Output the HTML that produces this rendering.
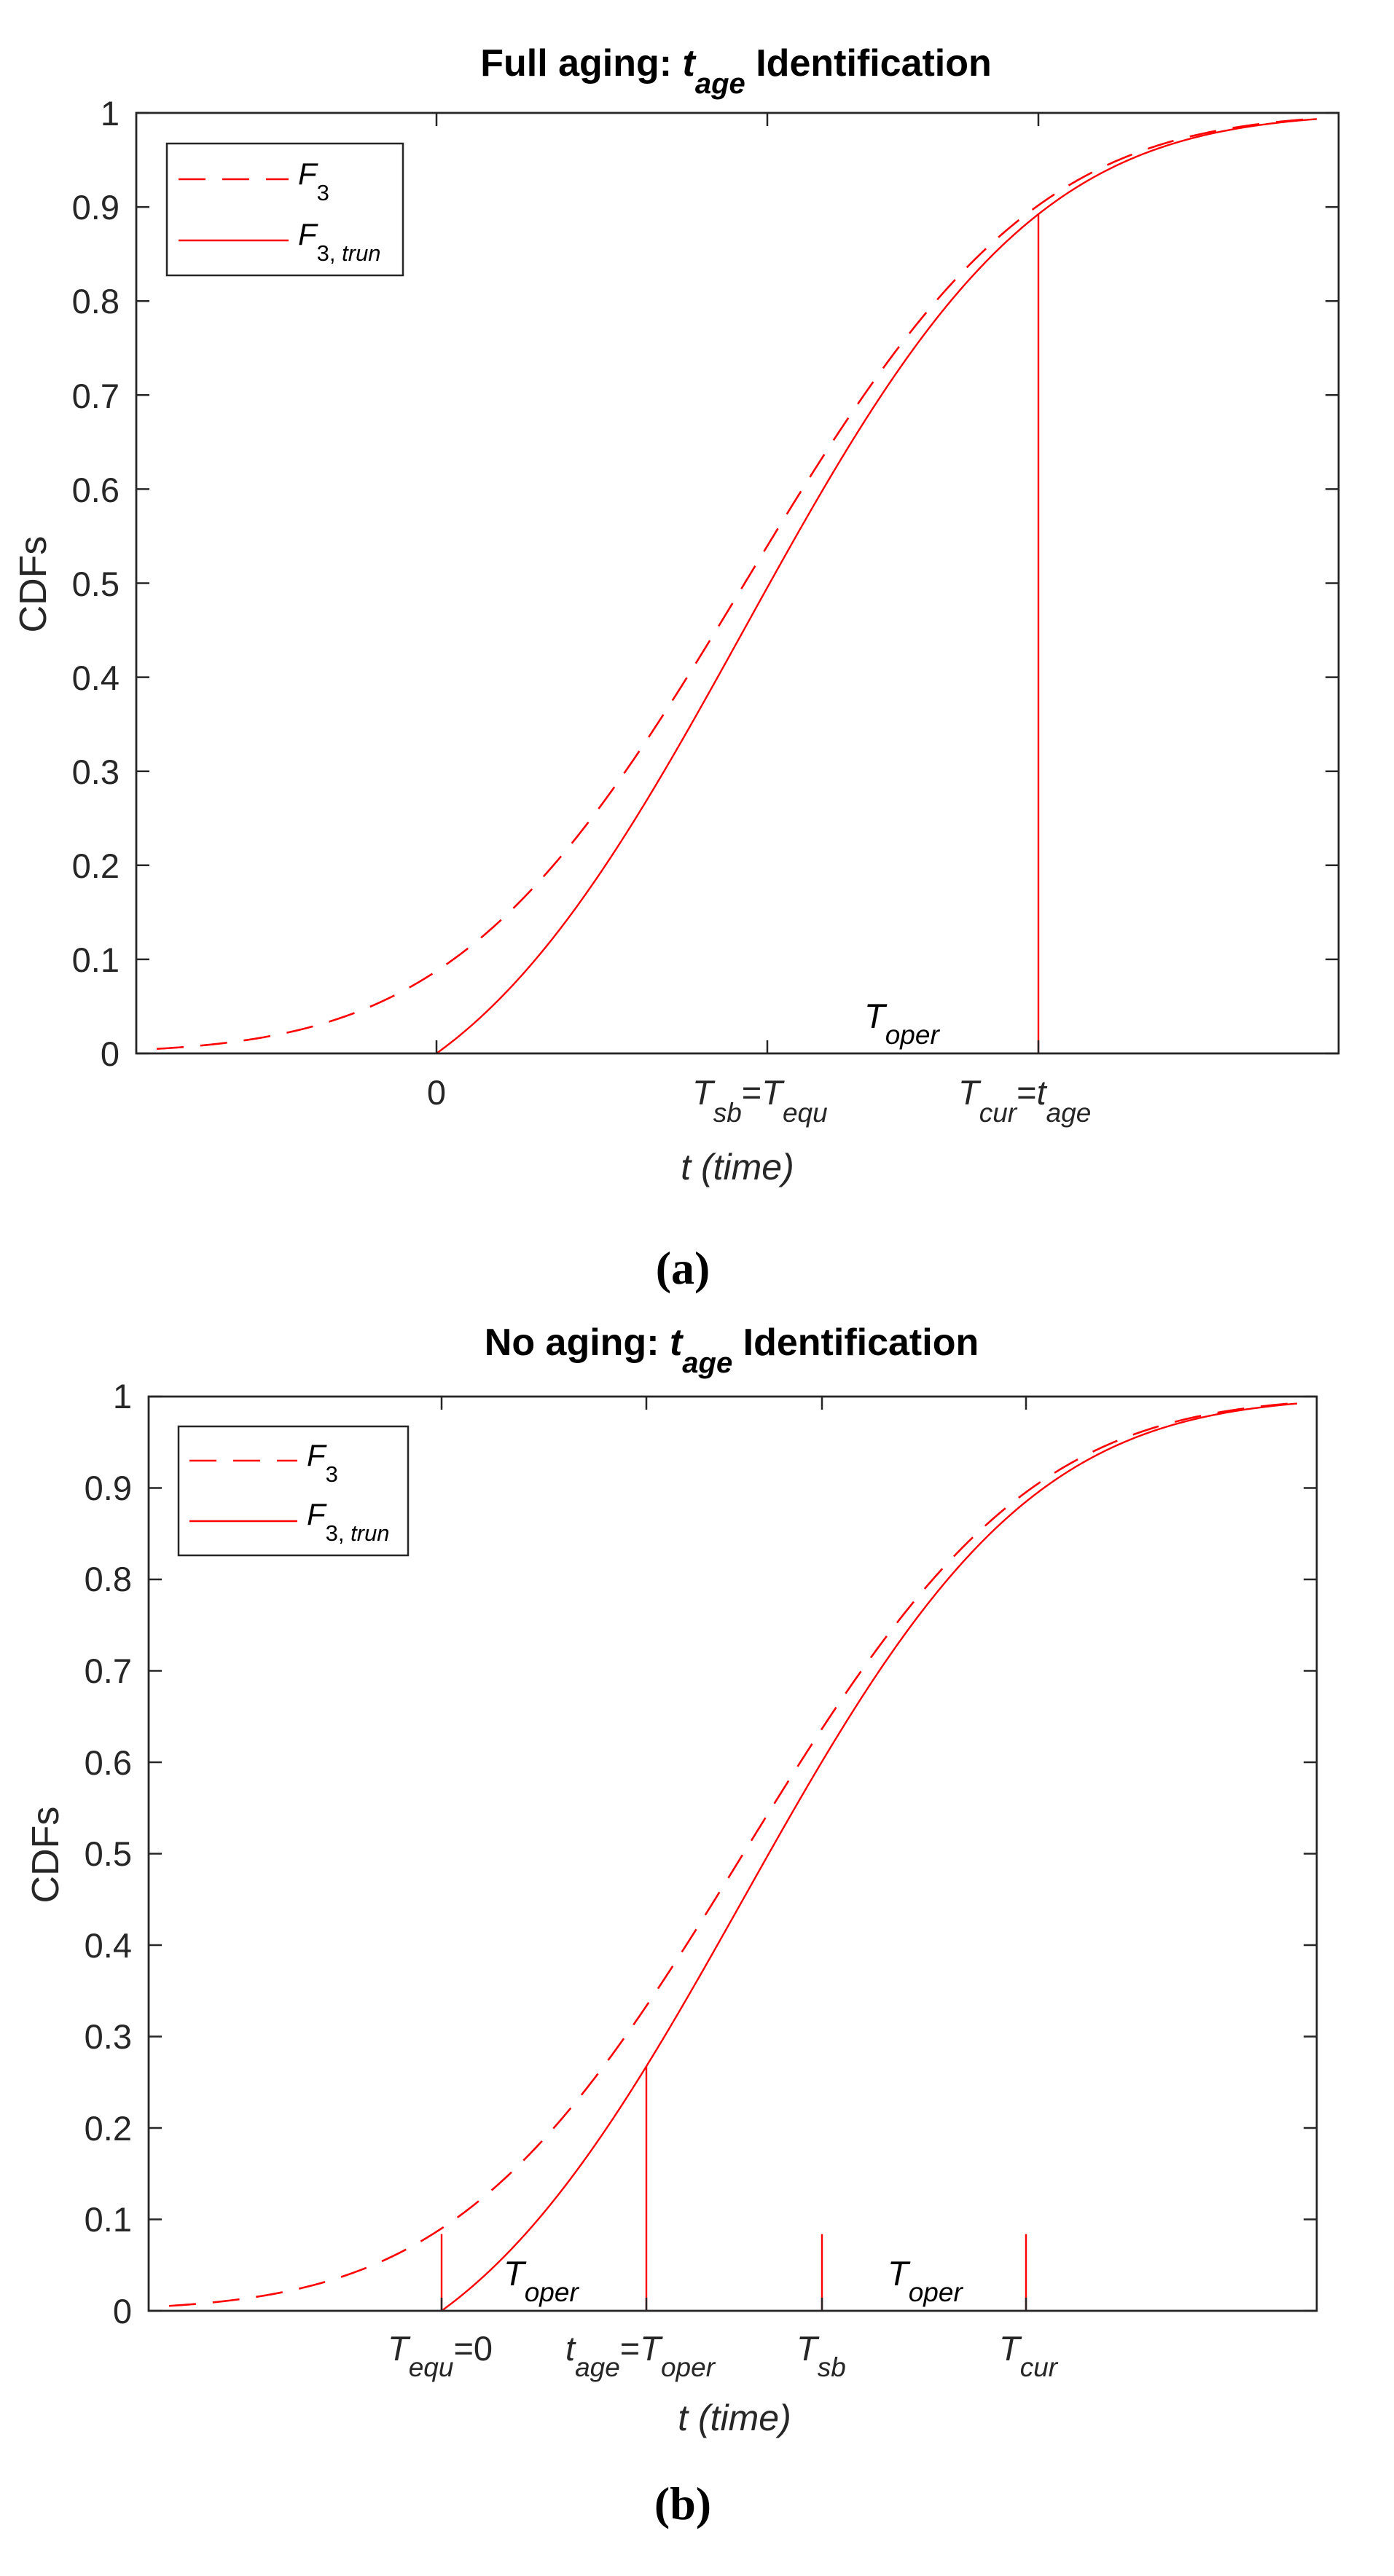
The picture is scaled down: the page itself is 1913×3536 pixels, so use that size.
<!DOCTYPE html>
<html><head><meta charset="utf-8">
<style>
html,body{margin:0;padding:0;background:#fff}
svg{display:block}
text{font-family:"Liberation Sans",Arial,sans-serif;fill:#262626}
.it{font-style:italic}
</style></head>
<body>
<svg id="s" width="1913" height="3536" viewBox="0 0 1913 3536" xmlns="http://www.w3.org/2000/svg">
<rect width="1913" height="3536" fill="#fff"/>
<g id="g"></g>

<!-- Panel a texts -->
<text x="1010" y="104" font-size="52" font-weight="bold" text-anchor="middle" style="fill:#000">Full aging: <tspan font-style="italic">t</tspan><tspan font-style="italic" font-size="40" dy="24">age</tspan><tspan dy="-24"> Identification</tspan></text>
<text transform="translate(63,802) rotate(-90)" font-size="52" text-anchor="middle">CDFs</text>
<g font-size="47" text-anchor="end">
<text x="164" y="1463">0</text><text x="164" y="1334">0.1</text><text x="164" y="1205">0.2</text>
<text x="164" y="1076">0.3</text><text x="164" y="947">0.4</text><text x="164" y="818">0.5</text>
<text x="164" y="689">0.6</text><text x="164" y="560">0.7</text><text x="164" y="430">0.8</text>
<text x="164" y="301">0.9</text><text x="164" y="172">1</text>
</g>
<text x="599" y="1516" font-size="47" text-anchor="middle">0</text>
<text x="950" y="1516" font-size="47" class="it">T<tspan font-size="37" dy="24">sb</tspan><tspan dy="-24" font-style="normal">=</tspan>T<tspan font-size="37" dy="24">equ</tspan></text>
<text x="1315" y="1516" font-size="47" class="it">T<tspan font-size="37" dy="24">cur</tspan><tspan dy="-24" font-style="normal">=</tspan>t<tspan font-size="37" dy="24">age</tspan></text>
<text x="1186" y="1411" font-size="47" class="it" style="fill:#000">T<tspan font-size="37" dy="22">oper</tspan></text>
<text x="1012" y="1619" font-size="50" class="it" text-anchor="middle">t (time)</text>
<text x="937" y="1762" font-size="64" font-weight="bold" text-anchor="middle" style="font-family:'Liberation Serif',serif;fill:#000">(a)</text>
<text x="409" y="253" font-size="42" class="it" style="fill:#000">F<tspan font-size="31" dy="22" font-style="normal">3</tspan></text>
<text x="409" y="336" font-size="42" class="it" style="fill:#000">F<tspan font-size="31" dy="22" font-style="normal">3,</tspan><tspan font-size="31"> trun</tspan></text>

<!-- Panel b texts -->
<text x="1004" y="1860" font-size="52" font-weight="bold" text-anchor="middle" style="fill:#000">No aging: <tspan font-style="italic">t</tspan><tspan font-style="italic" font-size="40" dy="24">age</tspan><tspan dy="-24"> Identification</tspan></text>
<text transform="translate(80,2546) rotate(-90)" font-size="52" text-anchor="middle">CDFs</text>
<g font-size="47" text-anchor="end">
<text x="181" y="3189">0</text><text x="181" y="3063">0.1</text><text x="181" y="2938">0.2</text>
<text x="181" y="2812">0.3</text><text x="181" y="2687">0.4</text><text x="181" y="2561">0.5</text>
<text x="181" y="2436">0.6</text><text x="181" y="2310">0.7</text><text x="181" y="2184">0.8</text>
<text x="181" y="2059">0.9</text><text x="181" y="1933">1</text>
</g>
<text x="532" y="3240" font-size="47" class="it">T<tspan font-size="37" dy="22">equ</tspan><tspan dy="-22" font-style="normal">=0</tspan></text>
<text x="776" y="3240" font-size="47" class="it">t<tspan font-size="37" dy="22">age</tspan><tspan dy="-22" font-style="normal">=</tspan>T<tspan font-size="37" dy="22">oper</tspan></text>
<text x="1093" y="3240" font-size="47" class="it">T<tspan font-size="37" dy="22">sb</tspan></text>
<text x="1371" y="3240" font-size="47" class="it">T<tspan font-size="37" dy="22">cur</tspan></text>
<text x="691" y="3137" font-size="47" class="it" style="fill:#000">T<tspan font-size="37" dy="22">oper</tspan></text>
<text x="1218" y="3137" font-size="47" class="it" style="fill:#000">T<tspan font-size="37" dy="22">oper</tspan></text>
<text x="1008" y="3336" font-size="50" class="it" text-anchor="middle">t (time)</text>
<text x="937" y="3458" font-size="64" font-weight="bold" text-anchor="middle" style="font-family:'Liberation Serif',serif;fill:#000">(b)</text>
<text x="421" y="2012" font-size="42" class="it" style="fill:#000">F<tspan font-size="31" dy="22" font-style="normal">3</tspan></text>
<text x="421" y="2093" font-size="42" class="it" style="fill:#000">F<tspan font-size="31" dy="22" font-style="normal">3,</tspan><tspan font-size="31"> trun</tspan></text>
</svg>
<script>
(function(){
var g=document.getElementById('g'),NS='http://www.w3.org/2000/svg';
function el(n,a){var e=document.createElementNS(NS,n);for(var k in a)e.setAttribute(k,a[k]);g.appendChild(e);return e;}
function erf(x){var s=x<0?-1:1;x=Math.abs(x);var t=1/(1+0.3275911*x);var y=1-(((((1.061405429*t-1.453152027)*t)+1.421413741)*t-0.284496736)*t+0.254829592)*t*Math.exp(-x*x);return s*y;}
function Phi(z){return 0.5*(1+erf(z/Math.SQRT2));}
function panel(P){
 var L=P.L,R=P.R,T=P.T,B=P.B,H=B-T;
 function Y(v){return B-v*H;}
 function F(x){return Phi((x-P.mu)/P.sd);}
 var F0=F(P.x0);
 function Ft(x){return (F(x)-F0)/(1-F0);}
 el('rect',{x:P.lg[0],y:P.lg[1],width:P.lg[2]-P.lg[0],height:P.lg[3]-P.lg[1],fill:'#fff',stroke:'#262626','stroke-width':2.5});
 el('line',{x1:P.ll[0],x2:P.ll[1],y1:P.ll[2],y2:P.ll[2],stroke:'#f00','stroke-width':2.6,'stroke-dasharray':'37 23'});
 el('line',{x1:P.ll[0],x2:P.ll[1],y1:P.ll[3],y2:P.ll[3],stroke:'#f00','stroke-width':2.6});
 var d='';for(var x=P.xs;x<=P.xe;x+=2){d+=(d?'L':'M')+x.toFixed(1)+' '+Y(F(x)).toFixed(2);}
 el('path',{d:d,fill:'none',stroke:'#f00','stroke-width':2.6,'stroke-dasharray':'37 23'});
 d='';for(var x=P.x0;x<=P.xe;x+=2){d+=(d?'L':'M')+x.toFixed(1)+' '+Y(Ft(x)).toFixed(2);}
 el('path',{d:d,fill:'none',stroke:'#f00','stroke-width':2.4});
 P.vl.forEach(function(v){var top=v[1]<0?Y(Ft(v[0])):Y(v[1]);el('line',{x1:v[0],x2:v[0],y1:B,y2:top,stroke:'#f00','stroke-width':2.4});});
 el('rect',{x:L,y:T,width:R-L,height:H,fill:'none',stroke:'#262626','stroke-width':2.8});
 for(var i=0;i<=10;i++){var y=Y(i/10);el('line',{x1:L,x2:L+18,y1:y,y2:y,stroke:'#262626','stroke-width':2.5});el('line',{x1:R,x2:R-18,y1:y,y2:y,stroke:'#262626','stroke-width':2.5});}
 P.xt.forEach(function(x){el('line',{x1:x,x2:x,y1:B,y2:B-18,stroke:'#262626','stroke-width':2.5});el('line',{x1:x,x2:x,y1:T,y2:T+18,stroke:'#262626','stroke-width':2.5});});
}
panel({L:187,R:1837,T:155,B:1446,mu:1022,sd:312,x0:599,xs:215,xe:1808,
 lg:[229,197,553,378],ll:[245,396,246,330],xt:[599,1053,1425],vl:[[1425,-1]]});
panel({L:204,R:1807,T:1917,B:3172,mu:1020,sd:309,x0:606,xs:232,xe:1781,
 lg:[245,1958,560,2135],ll:[260,408,2005,2088],xt:[606,887,1128,1408],vl:[[606,0.084],[887,-1],[1128,0.084],[1408,0.084]]});
})();
</script>
</body></html>
